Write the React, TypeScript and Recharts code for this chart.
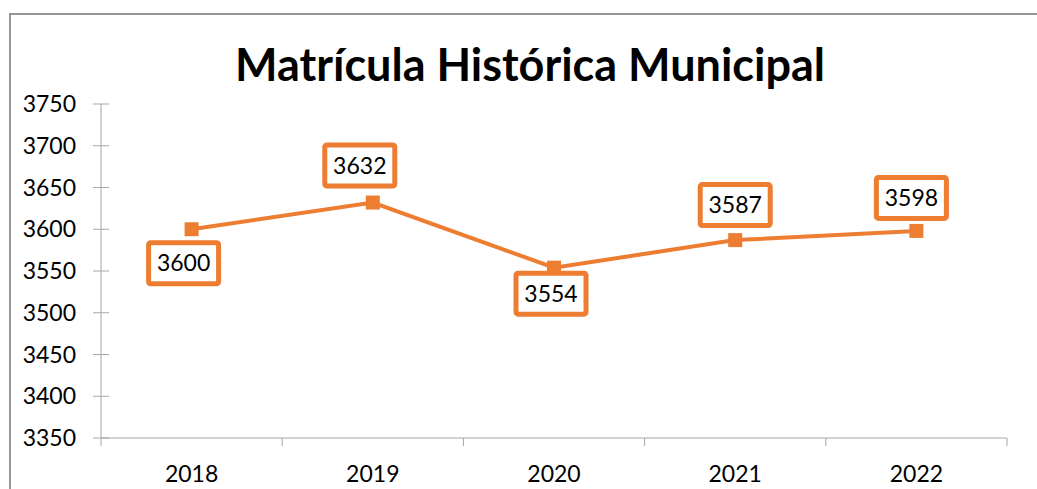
import React from "react";
import { LineChart, Line, XAxis, YAxis, LabelList } from "recharts";

const years = ["2018", "2019", "2020", "2021", "2022"];
const matricula = [3600, 3632, 3554, 3587, 3598];
const yTicks = [3350, 3400, 3450, 3500, 3550, 3600, 3650, 3700, 3750];

// where each value box sits relative to its point (layout only)
const labelNudge = [
  { dx: -8, dy: 34 },
  { dx: -13, dy: -37 },
  { dx: -3, dy: 26 },
  { dx: 0, dy: -35 },
  { dx: -5, dy: -33 },
];

const ORANGE = "#ED7D31";
const AXIS = "#A6A6A6";
const FONT = "Lato, 'Open Sans', sans-serif";

const W = 1037;
const H = 489;
const MARGIN = { top: 104, right: 30, bottom: 0, left: 0 };
const Y_WIDTH = 101;
const X_HEIGHT = 51;
const STEP = (W - Y_WIDTH - MARGIN.right) / years.length;

const data = years.map((year, i) => ({ year, value: matricula[i] }));

const YTick = (props: any) => {
  const { x, y, payload } = props;
  return (
    <g>
      <line x1={x + 17} x2={x + 33} y1={y} y2={y} stroke={AXIS} strokeWidth={1} />
      <text x={x} y={y + 8} textAnchor="end" fontSize={23} fontFamily={FONT} fill="#000">
        {payload.value}
      </text>
    </g>
  );
};

const XTick = (props: any) => {
  const { x, y, payload, index } = props;
  const last = index === years.length - 1;
  return (
    <g>
      <line x1={x - STEP / 2} x2={x - STEP / 2} y1={y} y2={y + 8} stroke={AXIS} strokeWidth={1} />
      {last && (
        <line x1={x + STEP / 2} x2={x + STEP / 2} y1={y} y2={y + 8} stroke={AXIS} strokeWidth={1} />
      )}
      <text x={x} y={y + 44} textAnchor="middle" fontSize={23} fontFamily={FONT} fill="#000">
        {payload.value}
      </text>
    </g>
  );
};

const SquareDot = (props: any) => {
  const { cx, cy } = props;
  if (cx == null || cy == null) return null;
  return <rect x={cx - 7} y={cy - 7} width={14} height={14} fill={ORANGE} />;
};

const BoxLabel = (props: any) => {
  const { x, y, value, index } = props;
  const n = labelNudge[index] || { dx: 0, dy: -35 };
  const cx = x + n.dx;
  const cy = y + n.dy;
  const bw = 75;
  const bh = 46;
  return (
    <g>
      <rect
        x={cx - bw / 2 + 2.5}
        y={cy - bh / 2 + 2.5}
        width={bw - 5}
        height={bh - 5}
        rx={2}
        fill="#fff"
        stroke={ORANGE}
        strokeWidth={5}
      />
      <text x={cx} y={cy + 8} textAnchor="middle" fontSize={23} fontFamily={FONT} fill="#000">
        {value}
      </text>
    </g>
  );
};

export default function App() {
  return (
    <div style={{ position: "absolute", left: 0, top: 0, width: W, height: H, background: "#fff" }}>
      <div
        style={{
          position: "absolute",
          left: 9,
          top: 13,
          width: W,
          height: H,
          borderTop: "2px solid #969696",
          borderLeft: "2px solid #969696",
          boxSizing: "border-box",
        }}
      />
      <svg style={{ position: "absolute", left: 0, top: 0 }} width={W} height={100}>
        <text
          x={530}
          y={81}
          textAnchor="middle"
          fontSize={45}
          fontWeight={700}
          fontFamily={FONT}
          fill="#000"
        >
          Matrícula Histórica Municipal
        </text>
      </svg>
      <div style={{ position: "absolute", left: 0, top: 0 }}>
        <LineChart width={W} height={H} data={data} margin={MARGIN}>
          <XAxis
            dataKey="year"
            height={X_HEIGHT}
            padding={{ left: STEP / 2, right: STEP / 2 }}
            axisLine={{ stroke: AXIS, strokeWidth: 1 }}
            tickLine={false}
            tickSize={0}
            tickMargin={0}
            tick={<XTick />}
            interval={0}
          />
          <YAxis
            width={Y_WIDTH}
            domain={[3350, 3750]}
            ticks={yTicks}
            axisLine={{ stroke: AXIS, strokeWidth: 1 }}
            tickLine={false}
            tickSize={8}
            tickMargin={17}
            tick={<YTick />}
            interval={0}
          />
          <Line
            type="linear"
            dataKey="value"
            stroke={ORANGE}
            strokeWidth={4}
            dot={<SquareDot />}
            activeDot={false}
            isAnimationActive={false}
          >
            <LabelList dataKey="value" content={<BoxLabel />} />
          </Line>
        </LineChart>
      </div>
    </div>
  );
}
